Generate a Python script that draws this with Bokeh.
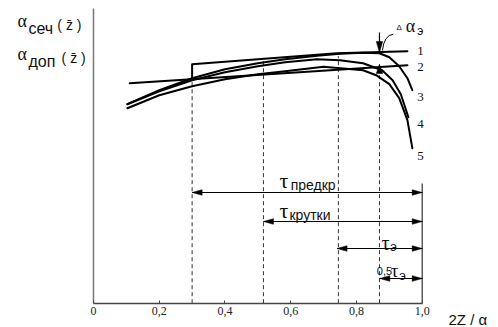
from bokeh.plotting import figure
from bokeh.models import Range1d, FixedTicker, Label
from bokeh.embed import file_html
from bokeh.resources import INLINE

# ---------------- data (x: 2Z/a, y: relative units) ----------------
x_ticks = [0, 0.2, 0.4, 0.6, 0.8, 1.0]
tick_labels = ["0", "0,2", "0,4", "0,6", "0,8", "1,0"]

line1_x = [0.30, 0.30, 0.50, 0.74, 0.955]
line1_y = [225, 239, 244, 250, 252]
line2_x = [0.11, 0.955]
line2_y = [220, 238]
c3_x = [0.103, 0.2, 0.3, 0.4, 0.5, 0.583, 0.68, 0.75, 0.82, 0.87, 0.9, 0.93, 0.955, 0.97]
c3_y = [199, 213, 225, 234, 240, 244, 247.5, 249.5, 250.5, 250, 246, 237, 225, 213]
c4_x = [0.103, 0.2, 0.3, 0.4, 0.5, 0.583, 0.68, 0.75, 0.82, 0.878, 0.91, 0.935, 0.958]
c4_y = [199, 212, 223, 231, 237, 241, 244, 243, 240, 233, 223, 209, 186]
c5_x = [0.103, 0.2, 0.3, 0.4, 0.5, 0.583, 0.7, 0.82, 0.86, 0.9, 0.93, 0.955, 0.97]
c5_y = [195, 208, 217, 224, 229, 232, 236.5, 233, 228, 219, 205, 183, 155]

curve_names = ["1", "2", "3", "4", "5"]
curve_label_x = [0.995, 0.995, 0.995, 0.995, 0.995]
curve_label_y = [252.7, 236.7, 206.7, 179.7, 147.7]

dash_x = [0.30, 0.517, 0.745, 0.87]
dash_top = [225, 244, 247, 231]

span_start = [0.30, 0.517, 0.741, 0.871]
span_end = [1.0, 1.0, 1.0, 1.0]
span_y = [110.7, 81.7, 54.7, 24.7]
right_edge_top = 119.7
y_axis_top = 294.7

delta_x = 0.87
delta_top = [270.7, 250.7]      # down arrow: start, tip (line 1)
delta_bottom = [230.7, 238.7]   # up arrow: start, tip (line 2)

# ---------------- figure ----------------
W, H = 498, 327
PX = 328.7          # pixels per x unit
LEFT = 93           # pixels from figure edge to x = 0
AXIS_Y = 302.7      # pixels from figure top to the x axis

p = figure(width=W, height=H, output_backend="svg", toolbar_location=None,
           x_range=Range1d(-LEFT / PX, (W - LEFT) / PX),
           y_range=Range1d(AXIS_Y - H, AXIS_Y),
           min_border_left=0, min_border_right=0, min_border_top=0,
           min_border_bottom=0)
p.yaxis.visible = False
p.grid.visible = False
p.outline_line_color = None
p.background_fill_color = "white"
p.border_fill_color = "white"

ax = p.xaxis[0]
ax.fixed_location = 0
ax.ticker = FixedTicker(ticks=x_ticks)
ax.major_label_overrides = dict(zip(x_ticks, tick_labels))
ax.major_label_text_font = "Liberation Serif"
ax.major_label_text_font_size = "12px"
ax.major_label_text_color = "#222222"
ax.major_label_standoff = 4
ax.axis_line_color = "#444444"
ax.axis_line_width = 1.5
ax.major_tick_in = 3
ax.major_tick_out = 0
ax.major_tick_line_color = "#444444"
ax.minor_tick_line_color = None
ax.bounds = (0, 1.0)

# y axis line
p.line(x=[0, 0], y=[0, y_axis_top], line_color="#7a7a7a", line_width=1.5)

# dashed verticals
p.segment(x0=dash_x, y0=[0] * len(dash_x), x1=dash_x, y1=dash_top,
          line_color="#333333", line_width=1, line_dash="4 3")

# right solid vertical at 1.0
p.line(x=[1.0, 1.0], y=[0, right_edge_top], line_color="#333333", line_width=1.2)

# curves
for xs, ys in [(line1_x, line1_y), (line2_x, line2_y), (c3_x, c3_y), (c4_x, c4_y), (c5_x, c5_y)]:
    p.line(xs, ys, line_color="black", line_width=2, line_join="round", line_cap="round")

# horizontal double arrows
p.segment(x0=span_start, y0=span_y, x1=span_end, y1=span_y, line_color="black", line_width=1.2)
HL, HW = 10 / PX, 2.8
hx, hy = [], []
for xs, xe, yy in zip(span_start, span_end, span_y):
    hx.append([xe, xe - HL, xe - HL]); hy.append([yy, yy + HW, yy - HW])
    hx.append([xs, xs + HL, xs + HL]); hy.append([yy, yy + HW, yy - HW])
# vertical delta arrows
VW = 3.2 / PX
p.segment(x0=[delta_x, delta_x], y0=[delta_top[0], delta_bottom[0]],
          x1=[delta_x, delta_x], y1=[delta_top[1], delta_bottom[1]], line_color="black", line_width=1.2)
hx.append([delta_x, delta_x - VW, delta_x + VW]); hy.append([delta_top[1], delta_top[1] + 11, delta_top[1] + 11])
hx.append([delta_x, delta_x - VW, delta_x + VW]); hy.append([delta_bottom[1], delta_bottom[1] - 9, delta_bottom[1] - 9])
p.patches(hx, hy, fill_color="black", line_color="black", line_width=0.5)

# leader curve for delta alpha
p.quadratic(x0=[0.879], y0=[252.7], x1=[0.912], y1=[269], cx=[0.884], cy=[268],
            line_color="black", line_width=1)

# curve labels
p.text(x=curve_label_x, y=curve_label_y, text=curve_names, text_font_size="13px",
       text_font="Liberation Sans", text_align="center", text_baseline="middle", text_color="#111111")

SANS = "Liberation Sans"
SERIF = "Liberation Serif"

def lab(x, y, s, size, font=SANS, align="left"):
    p.add_layout(Label(x=x, y=y, text=s, text_font=font, text_font_size=size,
                       text_align=align, text_baseline="alphabetic", text_color="#111111"))

# y labels
lab(-0.231, 282.2, "α", "18px", SERIF)
lab(-0.198, 274.7, "сеч", "16px")
lab(-0.110, 278.2, "( z̄ )", "14px")
lab(-0.231, 249.2, "α", "18px", SERIF)
lab(-0.198, 242.2, "доп", "16px")
lab(-0.097, 245.7, "( z̄ )", "14px")

# x axis title
lab(1.080, -16.0, "2Z / α", "15px")

# delta alpha label
lab(0.922, 275.7, "Δ", "8px")
lab(0.950, 277.7, "α", "18px", SERIF)
lab(0.985, 272.7, "э", "12px")

# tau labels
lab(0.566, 122.7, "τ", "22px", SERIF)
lab(0.600, 118.7, "предкр", "14px")
lab(0.566, 92.7, "τ", "22px", SERIF)
lab(0.596, 88.7, "крутки", "14px")
lab(0.876, 60.7, "τ", "20px", SERIF)
lab(0.903, 56.7, "э", "13px")
lab(0.862, 32.7, "0,5", "11px")
lab(0.904, 32.7, "τ", "19px", SERIF)
lab(0.930, 28.0, "э", "13px")

open("out.html", "w").write(file_html(p, INLINE))
